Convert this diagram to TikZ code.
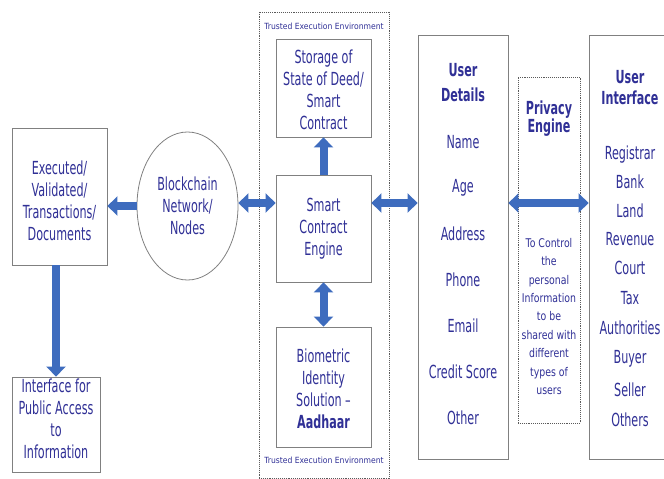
\documentclass[tikz,border=0pt]{standalone}
\usepackage{fontspec}
\newfontfamily\dgfont{DejaVu Sans}[FakeStretch=0.62]
\newfontfamily\dgsmallfont{DejaVu Sans}[FakeStretch=0.78]
\newfontfamily\dgtinyfont{DejaVu Sans}[FakeStretch=0.9]
\usetikzlibrary{arrows.meta,shapes.geometric}
\definecolor{txt}{RGB}{48,48,150}
\definecolor{arr}{RGB}{62,108,190}
\definecolor{edge}{RGB}{128,128,128}
\definecolor{dotc}{RGB}{90,90,90}
\tikzset{
  box/.style={draw=edge, line width=0.8pt, inner sep=0pt, fill=white},
  teebox/.style={draw=dotc, densely dotted, line width=0.9pt, inner sep=0pt},
  lbl/.style={text=txt, align=center, inner sep=0pt, font=\dgfont\fontsize{18}{22}\selectfont},
  head/.style={text=txt, align=center, inner sep=0pt, font=\dgfont\bfseries\fontsize{18}{22}\selectfont},
  small/.style={text=txt, align=center, inner sep=0pt, font=\dgsmallfont\fontsize{12}{18.4}\selectfont},
  tiny/.style={text=txt, align=center, inner sep=0pt, font=\dgtinyfont\fontsize{8.5}{10}\selectfont},
  barrow/.style={draw=arr, line width=8pt, -{Triangle[length=10pt,width=19pt]}},
  darrow/.style={draw=arr, line width=8pt, {Triangle[length=10pt,width=19pt]}-{Triangle[length=10pt,width=19pt]}}
}
\begin{document}
\begin{tikzpicture}[x=1pt,y=-1pt]
\useasboundingbox (0,0) rectangle (664,479);

% dashed containers
\node[teebox, minimum width=130pt, minimum height=466pt] (tee) at (324,245) {};
\node[tiny] (teetop) at (324,26) {Trusted Execution Environment};
\node[tiny] (teebot) at (324,460) {Trusted Execution Environment};
\node[teebox, minimum width=62pt, minimum height=346pt] (priv) at (549,250) {};

% boxes
\node[box, minimum width=95pt, minimum height=137pt] (exec) at (59.5,196.5) {};
\node[lbl] (exect) at (59.5,201) {Executed/\\Validated/\\Transactions/\\Documents};

\node[box, minimum width=88pt, minimum height=95pt] (iface) at (56,424.5) {};
\node[lbl] (ifacet) at (56,419) {Interface for\\Public Access\\to\\Information};

\node[draw=edge, line width=0.8pt, ellipse, minimum width=101pt, minimum height=148pt, inner sep=0pt] (ell) at (187.5,206) {};
\node[lbl] (ellt) at (187.5,206) {Blockchain\\Network/\\Nodes};

\node[box, minimum width=95pt, minimum height=98pt] (sto) at (323.5,88) {};
\node[lbl] (stot) at (323.5,90) {Storage of\\State of Deed/\\Smart\\Contract};

\node[box, minimum width=95pt, minimum height=107pt] (eng) at (323.5,228.5) {};
\node[lbl] (engt) at (323.5,228.5) {Smart\\Contract\\Engine};

\node[box, minimum width=95pt, minimum height=120pt] (bio) at (323.5,387) {};
\node[lbl] (biot) at (323.5,389) {Biometric\\Identity\\Solution –\\\textbf{Aadhaar}};

\node[box, minimum width=90pt, minimum height=424pt] (ud) at (463,247) {};
\node[head, font=\dgfont\bfseries\fontsize{18}{25}\selectfont] (udh) at (463,82.5) {User\\Details};
\node[lbl] (ud1) at (463,142) {Name};
\node[lbl] (ud2) at (463,188) {Age};
\node[lbl] (ud3) at (463,234) {Address};
\node[lbl] (ud4) at (463,280) {Phone};
\node[lbl] (ud5) at (463,326) {Email};
\node[lbl] (ud6) at (463,372) {Credit Score};
\node[lbl] (ud7) at (463,418) {Other};

\node[head, font=\dgfont\bfseries\fontsize{18}{18}\selectfont] (privh) at (549,119) {Privacy\\Engine};
\node[small] (privt) at (549,316.5) {To Control\\the\\personal\\Information\\to be\\shared with\\different\\types of\\users};

\node[box, minimum width=84pt, minimum height=424pt] (ui) at (631,247) {};
\node[head, font=\dgfont\bfseries\fontsize{18}{21}\selectfont] (uih) at (630,87.5) {User\\Interface};
\node[lbl] (ui1) at (630,155) {Registrar};
\node[lbl] (ui2) at (630,182) {Bank};
\node[lbl] (ui3) at (630,211) {Land};
\node[lbl] (ui4) at (630,239) {Revenue};
\node[lbl] (ui5) at (630,268) {Court};
\node[lbl] (ui6) at (630,298) {Tax};
\node[lbl] (ui7) at (630,328) {Authorities};
\node[lbl] (ui8) at (630,359) {Buyer};
\node[lbl] (ui9) at (630,390) {Seller};
\node[lbl] (ui10) at (630,420) {Others};

% connectors
\coordinate (row) at (0,203);
\draw[barrow] (ell.west) -- (ell.west -| exec.east);
\draw[barrow] (iface.north |- exec.south) -- (iface.north);
\draw[darrow] (ell.east |- row) -- (eng.west |- row);
\draw[darrow] (eng.east |- row) -- (ud.west |- row);
\draw[barrow] (eng.north) -- (sto.south);
\draw[darrow] (eng.south) -- (bio.north);
\draw[darrow] (ud.east |- row) -- (ui.west |- row);
\end{tikzpicture}
\end{document}
